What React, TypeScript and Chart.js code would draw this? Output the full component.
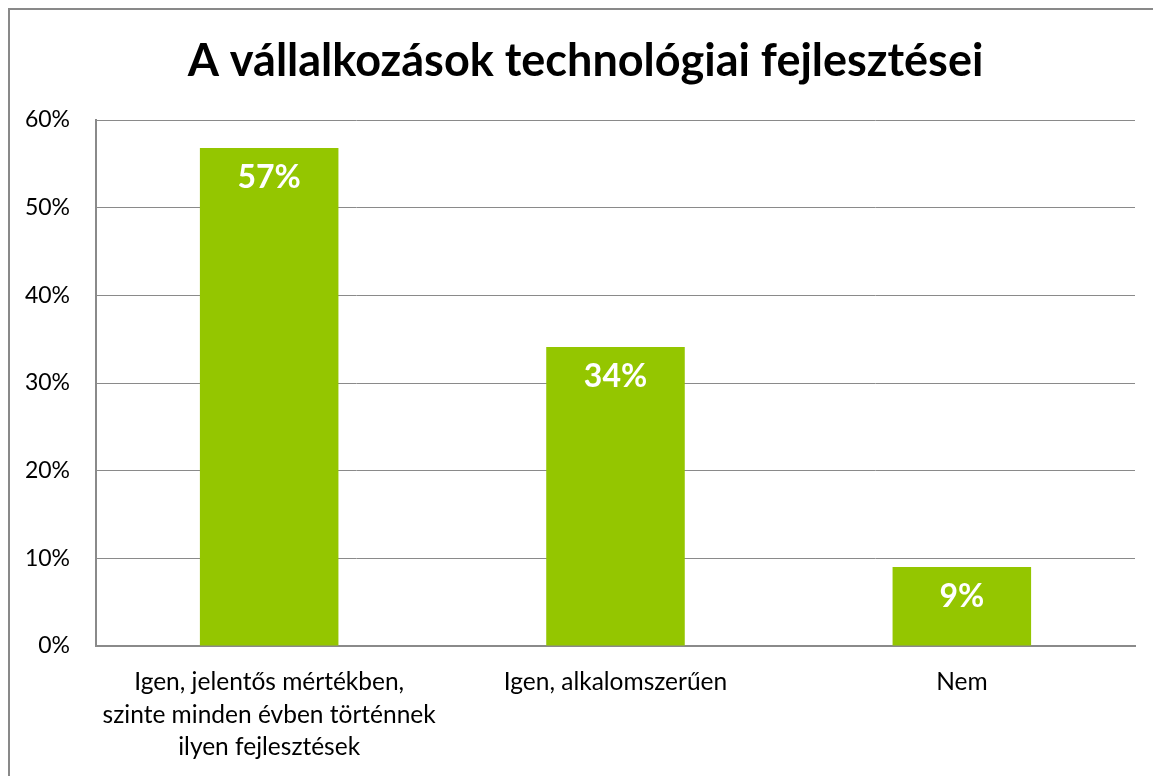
import React, { useEffect, useRef } from "react";
import { Chart, registerables } from "chart.js";

Chart.register(...registerables);

const titleText = "A vállalkozások technológiai fejlesztései";
const categories: (string | string[])[] = [
  ["Igen, jelentős mértékben,", "szinte minden évben történnek", "ilyen fejlesztések"],
  "Igen, alkalomszerűen",
  "Nem",
];
const values = [56.8, 34.1, 9.0];
const yTicks = [0, 10, 20, 30, 40, 50, 60];

const FONT = "Lato, 'Open Sans', sans-serif";

const labelPlugin = {
  id: "barLabels",
  afterDatasetsDraw(chart: any) {
    const ctx = chart.ctx;
    const meta = chart.getDatasetMeta(0);
    ctx.save();
    ctx.fillStyle = "#ffffff";
    ctx.font = `bold 32px ${FONT}`;
    ctx.textAlign = "center";
    ctx.textBaseline = "middle";
    meta.data.forEach((bar: any, i: number) => {
      const v = chart.data.datasets[0].data[i] as number;
      ctx.fillText(`${Math.round(v)}%`, bar.x, bar.y + 30);
    });
    ctx.restore();
  },
};

const titlePlugin = {
  id: "centeredTitle",
  afterDraw(chart: any) {
    const ctx = chart.ctx;
    ctx.save();
    ctx.fillStyle = "#000000";
    ctx.font = `bold 45px ${FONT}`;
    ctx.textAlign = "center";
    ctx.textBaseline = "middle";
    ctx.fillText(titleText, chart.width / 2 - 6, 51);
    ctx.restore();
  },
};

export default function App() {
  const ref = useRef<HTMLCanvasElement>(null);
  useEffect(() => {
    document.body.style.overflow = "hidden";
    const chart = new Chart(ref.current!, {
      type: "bar",
      data: {
        labels: categories,
        datasets: [
          {
            data: values,
            backgroundColor: "#94c600",
            borderWidth: 0,
            barPercentage: 0.4,
            categoryPercentage: 1,
          },
        ],
      },
      options: {
        animation: false,
        responsive: false,
        layout: { padding: { left: 0, right: 38, top: 110, bottom: 0 } },
        plugins: {
          legend: { display: false },
          tooltip: { enabled: false },
          title: { display: false },
        },
        scales: {
          x: {
            grid: { display: false, drawTicks: false },
            border: { display: true, color: "#8a8a8a", width: 2 },
            ticks: {
              color: "#000000",
              font: { family: FONT, size: 24.5, lineHeight: 1.33 },
              padding: 20,
              maxRotation: 0,
              autoSkip: false,
            },
            afterFit: (scale: any) => {
              scale.height = 144;
            },
          },
          y: {
            min: 0,
            max: 60,
            afterBuildTicks: (scale: any) => {
              scale.ticks = yTicks.map((v) => ({ value: v }));
            },
            grid: { color: "#8a8a8a", lineWidth: 1, drawTicks: false },
            border: { display: true, color: "#8a8a8a", width: 2 },
            ticks: {
              color: "#000000",
              font: { family: FONT, size: 23 },
              padding: 26,
              callback: (v: any) => `${v}%`,
            },
            afterFit: (scale: any) => {
              scale.width = 86;
            },
          },
        },
      },
      plugins: [labelPlugin, titlePlugin],
    });
    return () => chart.destroy();
  }, []);
  return (
    <div style={{ width: 1163, height: 780, border: "2px solid #898989", background: "#fff" }}>
      <canvas ref={ref} width={1163} height={780} style={{ display: "block" }} />
    </div>
  );
}
